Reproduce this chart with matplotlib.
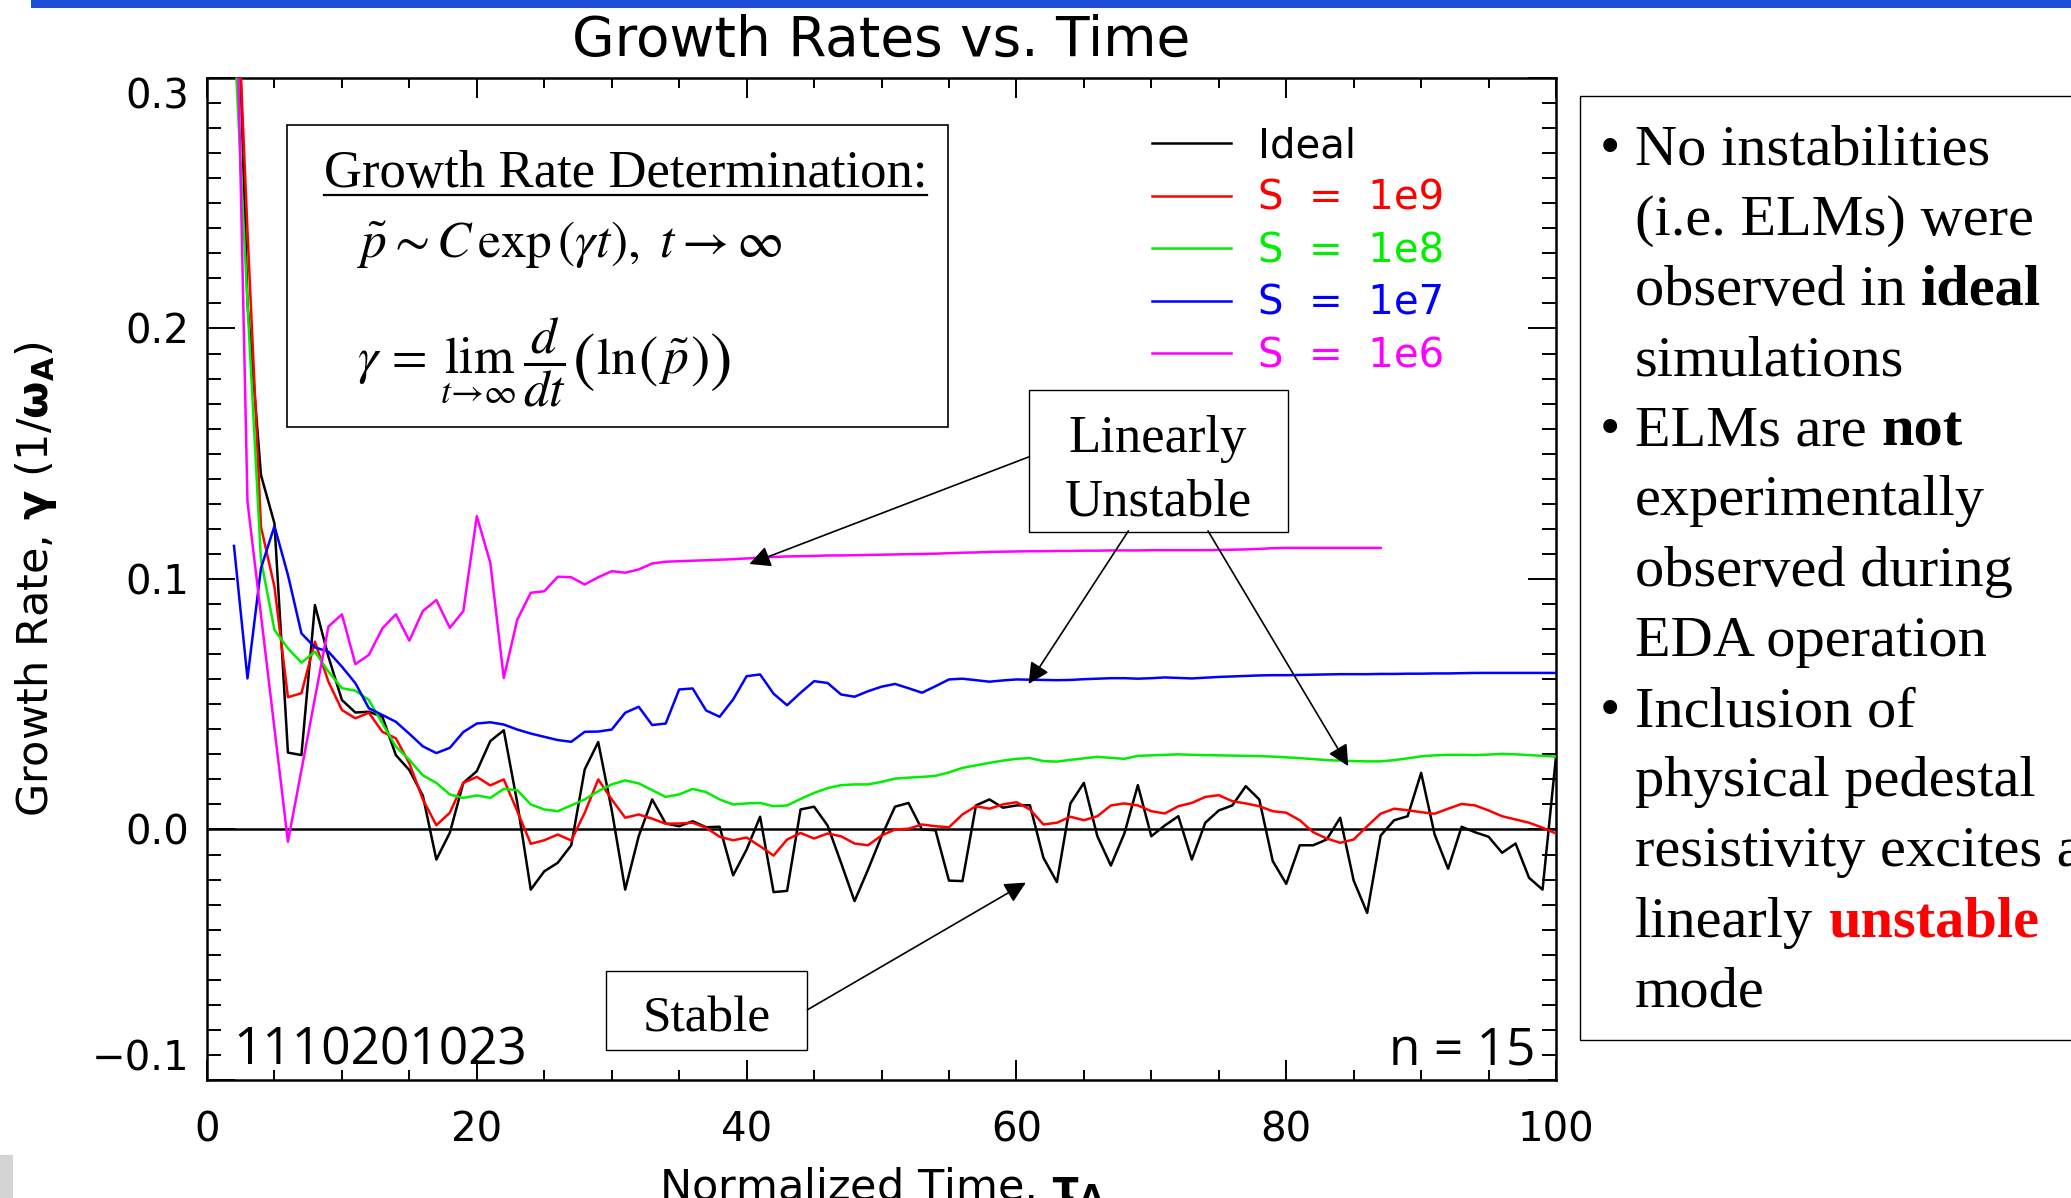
#!/usr/bin/env python3
import matplotlib
matplotlib.use('Agg')
import matplotlib.pyplot as plt
from matplotlib.patches import Rectangle
from matplotlib.lines import Line2D
from matplotlib.ticker import MultipleLocator, FuncFormatter

# time grid (normalized time, tau_A)
t_all = list(range(2, 101))
t_s6 = list(range(2, 88))

ideal = [0.39, 0.21, 0.1415, 0.1222, 0.0307, 0.0297, 0.0896, 0.069, 0.0517, 0.0467,
         0.047, 0.045, 0.0297, 0.0237, 0.0135, -0.012, -0.0013, 0.0186, 0.0233, 0.0353,
         0.0396, 0.0106, -0.024, -0.0167, -0.0133, -0.0063, 0.024, 0.0349, 0.0078, -0.024,
         -0.0027, 0.012, 0.0024, 0.0013, 0.0033, 0.0009, 0.0011, -0.0183, -0.008, 0.0051,
         -0.025, -0.0245, 0.008, 0.0091, 0.0016, -0.0133, -0.0286, -0.016, -0.0027, 0.0091,
         0.0106, 0.0, -0.0003, -0.0204, -0.0206, 0.0096, 0.012, 0.0087, 0.0096, 0.0097,
         -0.0113, -0.021, 0.0104, 0.0186, -0.0027, -0.0144, -0.0016, 0.0177, -0.0027, 0.0016,
         0.0053, -0.012, 0.0027, 0.0076, 0.0096, 0.0173, 0.012, -0.0126, -0.0217, -0.0063,
         -0.0063, -0.004, 0.0047, -0.0204, -0.0333, -0.0024, 0.0037, 0.0053, 0.0226, -0.002,
         -0.0157, 0.0011, -0.0011, -0.0029, -0.0093, -0.0056, -0.0193, -0.024, 0.0293]

s_1e9 = [0.366, 0.239, 0.1209, 0.0969, 0.0528, 0.0544, 0.075, 0.059, 0.0477, 0.0444,
         0.0466, 0.039, 0.0364, 0.0264, 0.012, 0.0017, 0.0067, 0.0186, 0.021, 0.0176,
         0.02, 0.0073, -0.0057, -0.0043, -0.002, -0.0044, 0.0067, 0.02, 0.012, 0.0047,
         0.006, 0.0043, 0.0023, 0.0024, 0.0027, 0.0007, -0.0029, -0.0043, -0.0032, -0.0067,
         -0.0104, -0.004, -0.0014, -0.0036, -0.0016, -0.0027, -0.0056, -0.0063, -0.0024, 0.0,
         0.0003, 0.002, 0.0013, 0.0009, 0.006, 0.0093, 0.0083, 0.01, 0.0109, 0.008,
         0.002, 0.0027, 0.0051, 0.0037, 0.0053, 0.0096, 0.0104, 0.0096, 0.0073, 0.0064,
         0.0093, 0.0106, 0.013, 0.0137, 0.0113, 0.0104, 0.0093, 0.0073, 0.0067, 0.0037,
         -0.0011, -0.0036, -0.0053, -0.004, 0.0013, 0.0063, 0.0083, 0.0077, 0.0069, 0.0063,
         0.0083, 0.0102, 0.0096, 0.0076, 0.0053, 0.004, 0.0027, 0.0007, -0.0016]

s_1e8 = [0.32, 0.21, 0.1076, 0.0797, 0.0723, 0.0666, 0.071, 0.063, 0.0564, 0.0554,
         0.0517, 0.0424, 0.0331, 0.0278, 0.0216, 0.0186, 0.014, 0.0126, 0.0136, 0.0126,
         0.0162, 0.0157, 0.01, 0.008, 0.0073, 0.0096, 0.012, 0.0153, 0.018, 0.0196,
         0.0184, 0.0157, 0.013, 0.014, 0.0162, 0.0149, 0.012, 0.01, 0.0104, 0.0106,
         0.0093, 0.0096, 0.0122, 0.0146, 0.0165, 0.0177, 0.018, 0.018, 0.019, 0.0203,
         0.0207, 0.021, 0.0214, 0.0228, 0.0246, 0.0256, 0.0266, 0.0275, 0.0282, 0.0285,
         0.0273, 0.0271, 0.0278, 0.0284, 0.029, 0.0286, 0.0282, 0.0294, 0.0296, 0.0298,
         0.03, 0.0298, 0.0297, 0.0296, 0.0295, 0.0294, 0.0293, 0.0291, 0.0288, 0.0285,
         0.0281, 0.0277, 0.0275, 0.0273, 0.0272, 0.0272, 0.0277, 0.0284, 0.0292, 0.0296,
         0.0298, 0.0298, 0.0297, 0.0299, 0.0302, 0.03, 0.0297, 0.0294, 0.0291]

s_1e7 = [0.1132, 0.0603, 0.1043, 0.1211, 0.1016, 0.0783, 0.0727, 0.071, 0.065, 0.0584,
         0.0484, 0.0457, 0.043, 0.0382, 0.0332, 0.0305, 0.0326, 0.0389, 0.0423, 0.0428,
         0.0419, 0.0399, 0.0383, 0.037, 0.0357, 0.035, 0.039, 0.0391, 0.0399, 0.0466,
         0.049, 0.0417, 0.0423, 0.0559, 0.0563, 0.0475, 0.045, 0.0519, 0.0612, 0.0619,
         0.0542, 0.0496, 0.0546, 0.0592, 0.0585, 0.0539, 0.053, 0.0552, 0.057, 0.0581,
         0.0564, 0.0546, 0.0572, 0.0599, 0.0602, 0.0596, 0.059, 0.0595, 0.0599, 0.0598,
         0.0597, 0.0596, 0.0597, 0.06, 0.0602, 0.0604, 0.0604, 0.0602, 0.0604, 0.0607,
         0.0605, 0.0603, 0.0606, 0.0609, 0.0611, 0.0613, 0.0615, 0.0616, 0.0616, 0.0617,
         0.0618, 0.0619, 0.062, 0.062, 0.062, 0.0621, 0.0621, 0.0622, 0.0622, 0.0623,
         0.0623, 0.0624, 0.0625, 0.0625, 0.0625, 0.0625, 0.0625, 0.0625, 0.0625]

s_1e6 = [0.385, 0.1309, 0.0856, 0.0404, -0.0049, 0.0237, 0.0524, 0.081, 0.0859, 0.066,
         0.0697, 0.0803, 0.0859, 0.0754, 0.0872, 0.0916, 0.0805, 0.0872, 0.1251, 0.1065,
         0.0605, 0.0838, 0.0945, 0.0951, 0.1009, 0.1007, 0.0978, 0.1007, 0.1031, 0.1025,
         0.1038, 0.1062, 0.1069, 0.1071, 0.1073, 0.1075, 0.1077, 0.1079, 0.1082, 0.1085,
         0.1088, 0.109, 0.1091, 0.1092, 0.1094, 0.1094, 0.1095, 0.1096, 0.1097, 0.1098,
         0.1099, 0.11, 0.1101, 0.1103, 0.1105, 0.1106, 0.1108, 0.1109, 0.111, 0.1111,
         0.1111, 0.1112, 0.1112, 0.1113, 0.1113, 0.1114, 0.1114, 0.1114, 0.1115, 0.1115,
         0.1115, 0.1115, 0.1115, 0.1116, 0.1117, 0.1118, 0.112, 0.1123, 0.1124, 0.1124,
         0.1124, 0.1124, 0.1124, 0.1124, 0.1124, 0.1124]

labels = ['Ideal', 'S  =  1e9', 'S  =  1e8', 'S  =  1e7', 'S  =  1e6']
colors = ['black', '#ff0000', '#00ee00', '#0000ff', '#ff00ff']

bullet_lines = [
    [('No instabilities', {})],
    [('(i.e. ELMs) were', {})],
    [('observed in', {}), ('ideal', {'fontweight': 'bold'})],
    [('simulations', {})],
    [('ELMs are', {}), ('not', {'fontweight': 'bold'})],
    [('experimentally', {})],
    [('observed during', {})],
    [('EDA operation', {})],
    [('Inclusion of', {})],
    [('physical pedestal', {})],
    [('resistivity excites a', {})],
    [('linearly', {}), ('unstable', {'fontweight': 'bold', 'color': '#ff0000'})],
    [('mode', {})],
]
bullet_rows = [0, 4, 8]

# pieces of the limit formula: (mathtext, size, baseline shift in px)
limit_parts = [(r'$\gamma\,{=}\,\lim_{t\rightarrow\infty}\,\dfrac{d}{dt}$', 37, 0),
               (r'$($', 49, -5), (r'$\ln$', 37, 0), (r'$($', 42, -2),
               (r'$\tilde{p}$', 37, 0), (r'$)$', 42, -2), (r'$)$', 49, -5)]


def main():
    fig = plt.figure(figsize=(20.71, 11.98), dpi=100)
    ax = fig.add_axes([0.09995, 0.0985, 0.6514, 0.8364])

    ax.axhline(0, color='black', lw=1.8, zorder=2)
    series = [(t_all, ideal), (t_all, s_1e9), (t_all, s_1e8), (t_all, s_1e7), (t_s6, s_1e6)]
    handles = []
    for (tt, yy), c, lab in zip(series, colors, labels):
        ln, = ax.plot(tt, yy, color=c, lw=1.8, label=lab, zorder=3)
        handles.append(ln)

    ax.set_xlim(0, 100)
    ax.set_ylim(-0.1, 0.3)
    ax.xaxis.set_major_locator(MultipleLocator(20))
    ax.xaxis.set_minor_locator(MultipleLocator(5))
    ax.yaxis.set_major_locator(MultipleLocator(0.1))
    ax.yaxis.set_minor_locator(MultipleLocator(0.01))
    ax.yaxis.set_major_formatter(FuncFormatter(lambda v, p: ('%.1f' % v).replace('-', '\u2212')))
    ax.xaxis.set_major_formatter(FuncFormatter(lambda v, p: '%d' % v))
    for s in ax.spines.values():
        s.set_linewidth(1.8)
    ax.tick_params(axis='x', which='major', direction='in', length=14.4, width=1.4, top=True,
                   pad=22, labelsize=29)
    ax.tick_params(axis='x', which='minor', direction='in', length=7.2, width=1.4, top=True)
    ax.tick_params(axis='y', which='major', direction='in', length=20, width=1.4, right=True,
                   pad=13, labelsize=29)
    ax.tick_params(axis='y', which='minor', direction='in', length=10, width=1.4, right=True)

    ax.set_title('Growth Rates vs. Time', fontsize=39.5, pad=16)
    ax.set_xlabel(r'Normalized Time, $\mathbf{\tau}_\mathbf{A}$', fontsize=31)
    ax.xaxis.set_label_coords(0.5, -0.085)
    ax.set_ylabel(r'Growth Rate, $\mathbf{\gamma}$ (1/$\mathbf{\omega}_\mathbf{A}$)', fontsize=31)
    ax.yaxis.label.set_va('center')
    ax.yaxis.set_label_coords(-0.127, 0.5)

    ax.legend(handles=handles, loc='upper left', bbox_to_anchor=(0.7005, 0.9517),
              frameon=False, fontsize=29, handlelength=1.96, handletextpad=0.67,
              labelspacing=0.31, borderpad=0, borderaxespad=0, labelcolor='linecolor')

    serif = 'Liberation Serif'

    # growth rate determination box
    ax.add_patch(Rectangle((5.93, 0.1607), 48.97, 0.1205, facecolor='white',
                           edgecolor='black', lw=1.2, zorder=4))
    head = ax.text(8.67, 0.2563, 'Growth Rate Determination:', family=serif, fontsize=38,
                   va='baseline', ha='left', zorder=5)
    ax.text(11.1, 0.2337, r'$\tilde{p} \sim C\,\exp\left(\gamma t\right),\ t \rightarrow \infty$',
            math_fontfamily='stix', fontsize=37, va='center', ha='left', zorder=5)

    # linearly unstable / stable callouts
    ax.add_patch(Rectangle((60.9, 0.1188), 19.2, 0.0566, facecolor='white',
                           edgecolor='black', lw=1.0, zorder=4))
    ax.text(70.5, 0.1559, 'Linearly', family=serif, fontsize=38, ha='center', va='center', zorder=5)
    ax.text(70.5, 0.1304, 'Unstable', family=serif, fontsize=38, ha='center', va='center', zorder=5)
    ax.add_patch(Rectangle((29.6, -0.088), 14.9, 0.0315, facecolor='white',
                           edgecolor='black', lw=1.0, zorder=4))
    ax.text(37.05, -0.0757, 'Stable', family=serif, fontsize=37, ha='center', va='center', zorder=5)

    arrows = [((60.9, 0.1487), (40.2, 0.106)),
              ((68.3, 0.1192), (60.9, 0.0581)),
              ((74.2, 0.1192), (84.6, 0.0253)),
              ((44.5, -0.072), (60.7, -0.0212))]
    for start, tip in arrows:
        ax.annotate('', xy=tip, xytext=start,
                    arrowprops=dict(arrowstyle='-|>', color='black', lw=1.2,
                                    mutation_scale=32, shrinkA=0, shrinkB=0), zorder=6)

    ax.text(1.93, -0.094, '1110201023', family='Open Sans', fontsize=37, va='baseline', ha='left')
    ax.text(98.5, -0.094, 'n = 15', family='Open Sans', fontsize=37, va='baseline', ha='right')

    # right hand text panel
    W, H = 2071.0, 1198.0
    fig.add_artist(Rectangle((1580 / W, 1 - 1040 / H), 600 / W, 944 / H, transform=fig.transFigure,
                             facecolor='none', edgecolor='black', lw=1.0))
    for i, parts in enumerate(bullet_lines):
        yb = 1 - (164.5 + 70.2 * i) / H
        if i in bullet_rows:
            fig.text(1610 / W, yb, '\u2022', family=serif, fontsize=42, ha='center', va='baseline')
        prev = None
        for txt, kw in parts:
            if prev is None:
                prev = fig.text(1635 / W, yb, txt, family=serif, fontsize=42, ha='left',
                                va='baseline', **kw)
            else:
                prev = ax.annotate(txt, xy=(1, 0), xycoords=prev, xytext=(10.5, 0),
                                   textcoords='offset points', family=serif, fontsize=42,
                                   ha='left', va='bottom', annotation_clip=False, **kw)

    # slide decorations
    fig.add_artist(Rectangle((31 / W, 1 - 8 / H), 1.0, 8 / H, transform=fig.transFigure,
                             facecolor='#1c4fd8', edgecolor='none'))
    fig.add_artist(Rectangle((0, 0), 13 / W, 43 / H, transform=fig.transFigure,
                             facecolor='#d4d4d4', edgecolor='none'))

    fig.canvas.draw()
    renderer = fig.canvas.get_renderer()

    # keep the end labels of the y axis inside the frame, as the original does
    for tick in ax.yaxis.get_major_ticks():
        loc = tick.get_loc()
        if abs(loc - 0.3) < 1e-9:
            tick.label1.set_va('top')
        elif abs(loc + 0.1) < 1e-9:
            tick.label1.set_va('bottom')

    # underline the box heading
    bb = head.get_window_extent(renderer)
    yline = ax.transData.transform((0, 0.2563))[1] - 8
    fig.add_artist(Line2D([bb.x0, bb.x1], [yline, yline], transform=None, color='black', lw=1.6))

    # limit formula, built piece by piece so the brackets can be tall
    fw, fh = fig.bbox.width, fig.bbox.height
    x, y = ax.transData.transform((11.1, 0.1818))
    for k, (s, size, dy) in enumerate(limit_parts):
        tx = fig.text(x / fw, (y + dy) / fh, s, math_fontfamily='stix', fontsize=size,
                      va='baseline', ha='left', zorder=5)
        ext = tx.get_window_extent(renderer)
        x = ext.x1 + (6 if k == 0 else 1)

    fig.savefig('out.png', dpi=100)


if __name__ == '__main__':
    main()
